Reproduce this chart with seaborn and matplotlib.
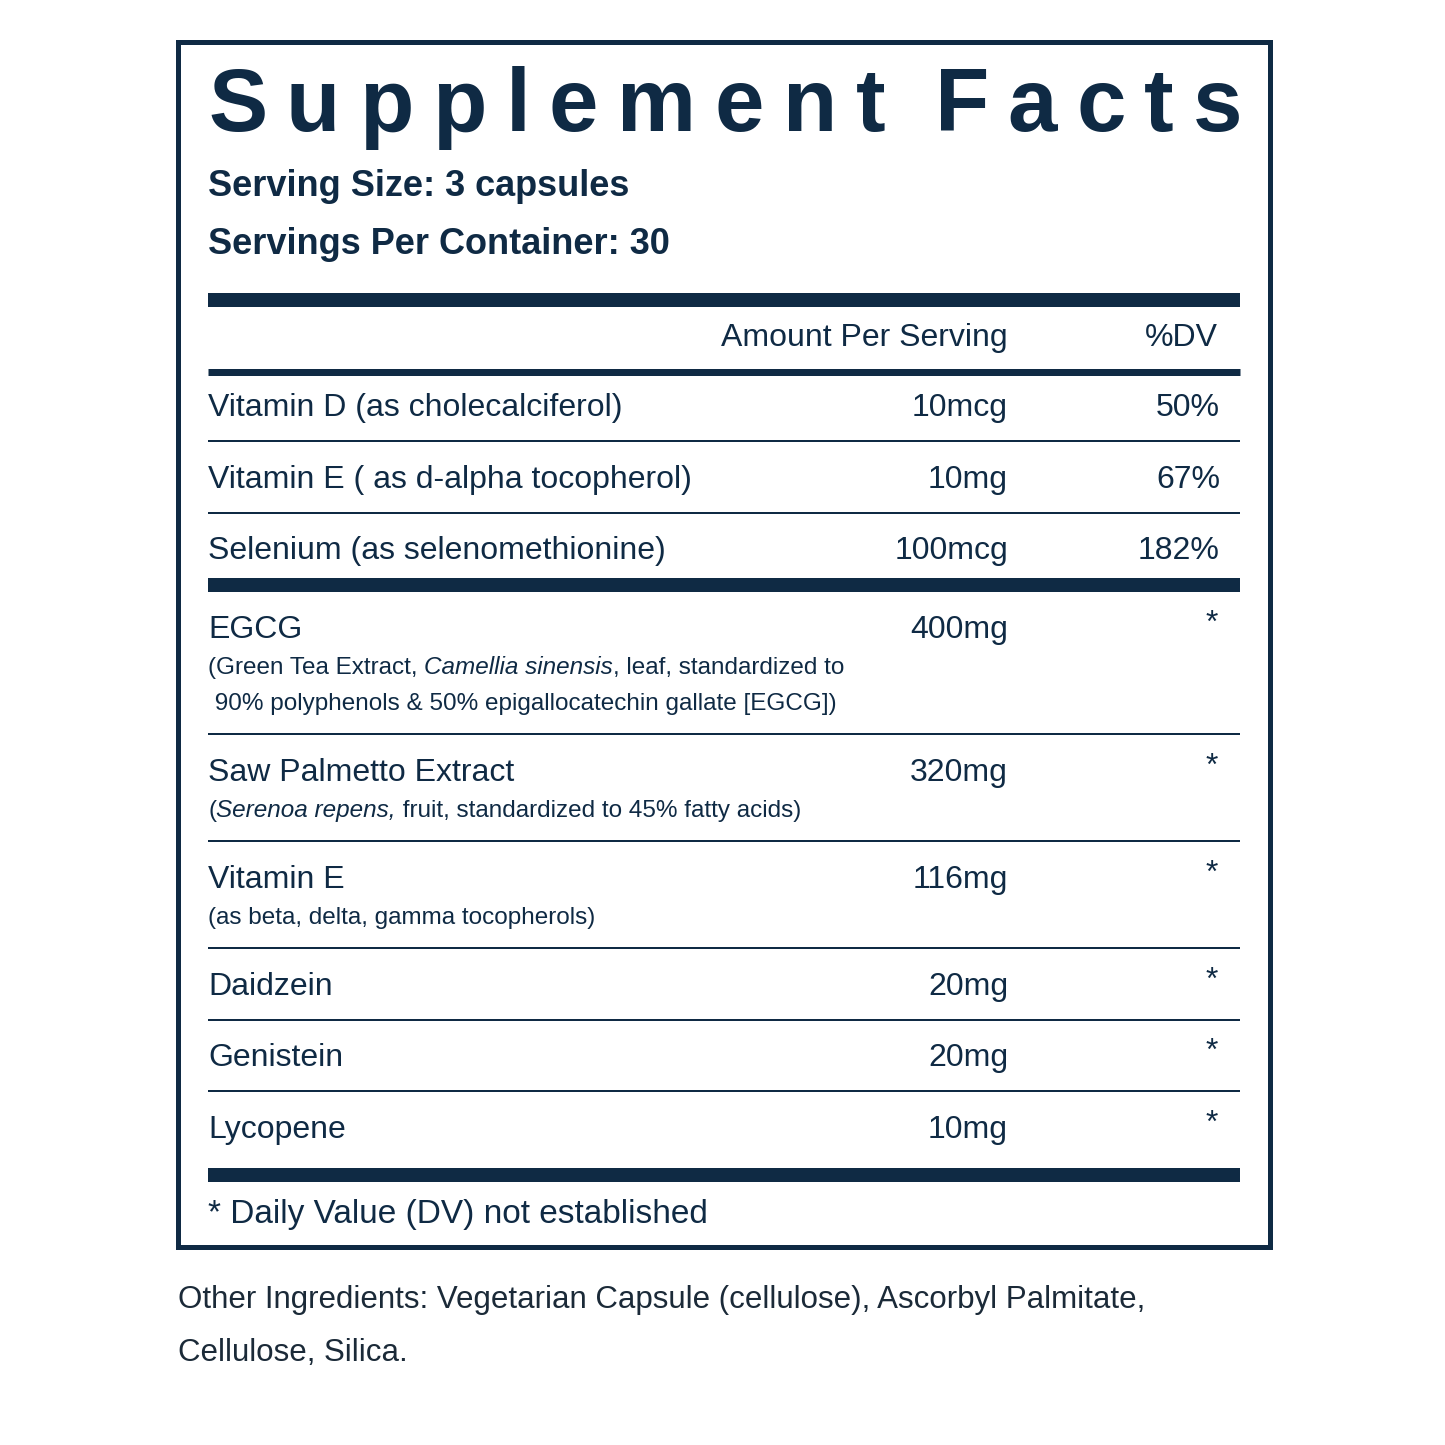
import matplotlib
matplotlib.use("Agg")
import matplotlib.pyplot as plt
import seaborn as sns

sns.set_theme(style="white")
plt.rcParams['font.family'] = ['Liberation Sans', 'DejaVu Sans']

NAVY = "#0f2a44"

# label data
names = ["Vitamin D (as cholecalciferol)", "Vitamin E ( as d-alpha tocopherol)",
         "Selenium (as selenomethionine)", "EGCG", "Saw Palmetto Extract",
         "Vitamin E", "Daidzein", "Genistein", "Lycopene"]
amounts = ["10mcg", "10mg", "100mcg", "400mg", "320mg", "116mg", "20mg", "20mg", "10mg"]
dvs = ["50%", "67%", "182%", "*", "*", "*", "*", "*", "*"]
# subtitle lines as (text, italic) segments
subtitles = [
    [], [], [],
    [[("(Green Tea Extract, ", False), ("Camellia sinensis", True),
      (", leaf, standardized to", False)],
     [(" 90% polyphenols & 50% epigallocatechin gallate [EGCG])", False)]],
    [[("(", False), ("Serenoa repens,", True),
      (" fruit, standardized to 45% fatty acids)", False)]],
    [[("(as beta, delta, gamma tocopherols)", False)]],
    [], [], [],
]
row_y = [408, 480, 551, 630, 773, 880, 987, 1058, 1130]
thin_lines = [441, 513, 734, 841, 948, 1020, 1091]
thick_lines = [(300, 14), (372, 7), (585, 14), (1175, 14)]

fig = plt.figure(figsize=(14.45, 14.45), dpi=100)
ax = fig.add_axes([0, 0, 1, 1])
ax.set_xlim(0, 1445)
ax.set_ylim(1445, 0)
ax.axis("off")
fig.canvas.draw()
renderer = fig.canvas.get_renderer()

def px_to_pt(px):
    return px * 72 / 100

# outer box
ax.add_patch(plt.Rectangle((178, 42), 1092, 1205, fill=False, ec=NAVY, lw=px_to_pt(5)))

# title, letter by letter spread across the width
title = "Supplement Facts"
tx0, tx1 = 208, 1242
letters = [ch for ch in title]
arts = [ax.text(0, 108, ch, fontsize=64, fontweight="bold", color=NAVY,
                va="center", ha="left") for ch in letters]
widths = [a.get_window_extent(renderer).width if ch != " " else 12 for a, ch in zip(arts, letters)]
gap = (tx1 - tx0 - sum(widths)) / (len(letters) - 1)
x = tx0
for a, w in zip(arts, widths):
    a.set_x(x)
    x += w + gap

ax.text(208, 186, "Serving Size: 3 capsules", fontsize=26, fontweight="bold", color=NAVY, va="center")
ax.text(208, 245, "Servings Per Container: 30", fontsize=26, fontweight="bold", color=NAVY, va="center")

for y, h in thick_lines:
    ax.plot([208, 1240], [y, y], color=NAVY, lw=px_to_pt(h), solid_capstyle="butt")
for y in thin_lines:
    ax.plot([208, 1240], [y, y], color=NAVY, lw=px_to_pt(2), solid_capstyle="butt")

fs = 23
ax.text(1008, 338, "Amount Per Serving", fontsize=fs, color=NAVY, ha="right", va="center")
ax.text(1218, 338, "%DV", fontsize=fs, color=NAVY, ha="right", va="center")

for name, amt, dv, subs, y in zip(names, amounts, dvs, subtitles, row_y):
    ax.text(208, y, name, fontsize=fs, color=NAVY, va="center")
    ax.text(1008, y, amt, fontsize=fs, color=NAVY, ha="right", va="center")
    if dv == "*":
        ax.text(1212, y - 6, dv, fontsize=fs, color=NAVY, ha="center", va="center")
    else:
        ax.text(1220, y, dv, fontsize=fs, color=NAVY, ha="right", va="center")
    for i, line in enumerate(subs):
        sy = y + 38 + 36 * i
        sx = 208
        for seg, ital in line:
            t = ax.text(sx, sy, seg, fontsize=17.5, color=NAVY, va="center",
                        style="italic" if ital else "normal")
            sx += t.get_window_extent(renderer).width

ax.text(208, 1215, "* Daily Value (DV) not established", fontsize=24, color=NAVY, va="center")
ax.text(178, 1300, "Other Ingredients: Vegetarian Capsule (cellulose), Ascorbyl Palmitate,",
        fontsize=22.5, color="#1b2a38", va="center")
ax.text(178, 1353, "Cellulose, Silica.", fontsize=22.5, color="#1b2a38", va="center")

fig.savefig("out.png", dpi=100, facecolor="white")
